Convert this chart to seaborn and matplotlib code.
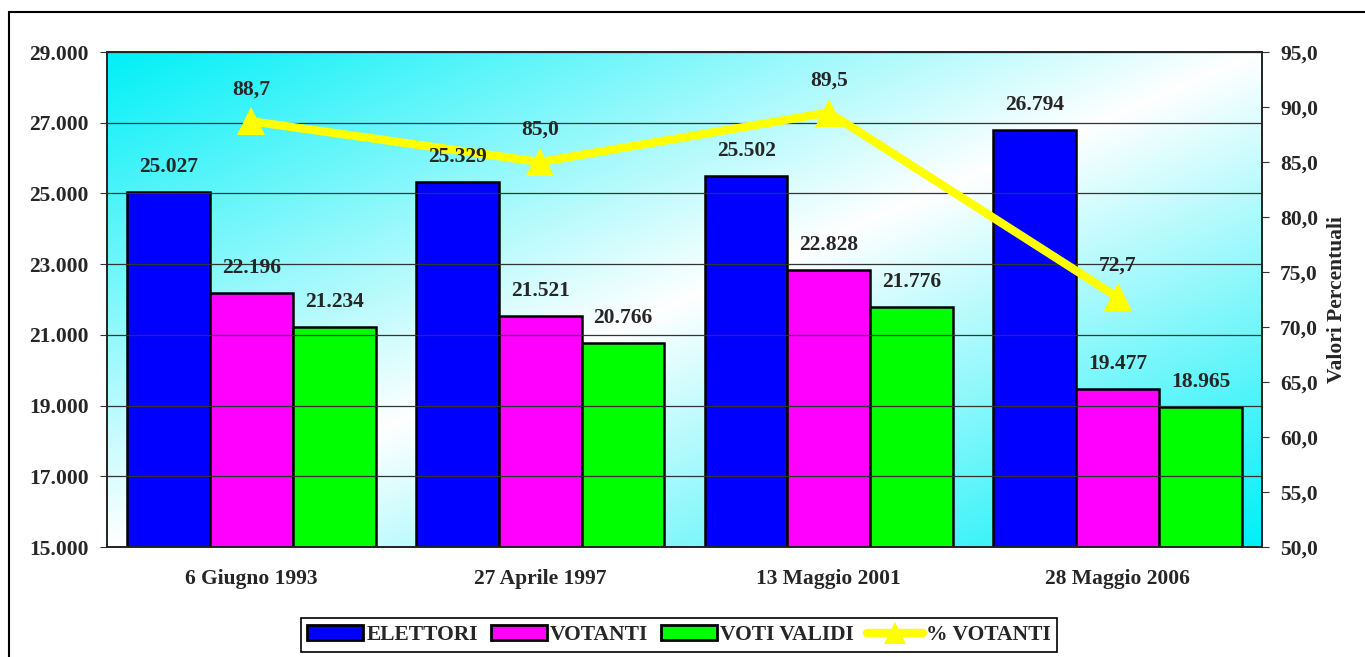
import numpy as np
import pandas as pd
import matplotlib
matplotlib.use("Agg")
import matplotlib.pyplot as plt
from matplotlib.patches import Patch, Rectangle
from matplotlib.lines import Line2D
from matplotlib.ticker import FuncFormatter, MultipleLocator
import seaborn as sn

# dati
categorie = ["6 Giugno 1993", "27 Aprile 1997", "13 Maggio 2001", "28 Maggio 2006"]
elettori = [25027, 25329, 25502, 26794]
votanti = [22196, 21521, 22828, 19477]
voti_validi = [21234, 20766, 21776, 18965]
perc_votanti = [88.7, 85.0, 89.5, 72.7]
serie = ["ELETTORI", "VOTANTI", "VOTI VALIDI"]
colori = ["#0000FF", "#FF00FF", "#00FF00"]
tick_sx = [15000, 17000, 19000, 21000, 23000, 25000, 27000, 29000]

FS = 15.5

sn.set_style("white")
plt.rcParams["font.family"] = ["Liberation Serif", "DejaVu Serif"]
plt.rcParams["font.weight"] = "bold"
plt.rcParams["font.size"] = FS

df = pd.DataFrame({
    "data": categorie * 3,
    "valore": elettori + votanti + voti_validi,
    "serie": [s for s in serie for _ in categorie],
})

fig = plt.figure(figsize=(13.65, 6.57), dpi=100)
ax = fig.add_axes([107 / 1365, 1 - 547 / 657, (1262 - 107) / 1365, (547 - 52) / 657])

# sfondo sfumato (ciano negli angoli alto-sx e basso-dx)
u, v = np.meshgrid(np.linspace(0, 1, 300), np.linspace(0, 1, 300))
t = np.abs(u + v - 1)
ciano = np.array([0.0, 0.94, 0.97])
img = 1 - t[..., None] * (1 - ciano[None, None, :])
ax.imshow(img, extent=[0, 1, 0, 1], transform=ax.transAxes, aspect="auto", zorder=0, origin="upper")

sn.barplot(data=df, x="data", y="valore", hue="serie", hue_order=serie,
           palette=colori, width=0.86, gap=0, edgecolor="black", linewidth=1.8,
           saturation=1, ax=ax, legend=False, zorder=2)

ax.set_ylim(15000, 29000)
ax.set_yticks(tick_sx)
ax.yaxis.set_major_formatter(FuncFormatter(lambda x, p: f"{x:,.0f}".replace(",", ".")))
ax.grid(axis="y", color="#333333", linewidth=0.9)
ax.set_axisbelow(False)
for gl in ax.get_ygridlines():
    gl.set_zorder(1)
ax.set_xlabel("")
ax.set_ylabel("")

# linea % votanti su asse destro
ax2 = ax.twinx()
pos = np.arange(len(categorie))
sn.lineplot(x=pos, y=perc_votanti, ax=ax2, color="#FFFF00", linewidth=6,
            marker="^", markersize=20, markeredgewidth=0, markerfacecolor="#FFFF00")
for xi, yi in zip(pos, perc_votanti):
    ax2.annotate(f"{yi:.1f}".replace(".", ","), (xi, yi), xytext=(0, 23),
                 textcoords="offset points", ha="center", va="center",
                 fontsize=FS, fontweight="bold", zorder=5)

# etichette delle barre sopra la linea
for cont in ax.containers:
    for b in cont:
        h = b.get_height()
        ax2.annotate(f"{h:,.0f}".replace(",", "."), (b.get_x() + b.get_width() / 2, h),
                     xycoords=ax.transData, xytext=(0, 18), textcoords="offset points",
                     ha="center", va="center", fontsize=FS, fontweight="bold", zorder=5)

ax2.set_ylim(50, 95)
ax2.yaxis.set_major_locator(MultipleLocator(5))
ax2.yaxis.set_major_formatter(FuncFormatter(lambda x, p: f"{x:.1f}".replace(".", ",")))
ax2.set_ylabel("Valori Percentuali", fontsize=FS, fontweight="bold", labelpad=6)

ax.set_xlim(-0.5, len(categorie) - 0.5)
ax.set_xticks(pos)
ax.set_xticklabels(categorie)
ax.set_xticks(np.arange(-0.5, len(categorie)), minor=True)
ax.tick_params(axis="x", which="major", length=0, pad=16)
ax.tick_params(axis="x", which="minor", length=6, direction="out", color="#333333", width=1)
ax.tick_params(axis="y", length=5, direction="out", pad=8, color="#333333", left=True)
ax2.tick_params(axis="y", length=5, direction="out", pad=8, color="#333333", right=True)

for a in (ax, ax2):
    for s in a.spines.values():
        s.set_visible(True)
        s.set_color("#222222")
        s.set_linewidth(1.2)

# legenda
handles = [Patch(facecolor=c, edgecolor="black", linewidth=2) for c in colori]
handles.append(Line2D([0], [0], color="#FFFF00", linewidth=6, marker="^",
                      markersize=16, markeredgewidth=0))
leg = fig.legend(handles, serie + ["% VOTANTI"], loc="center",
                 bbox_to_anchor=(679 / 1365, 1 - 635 / 657), ncol=4,
                 frameon=True, fancybox=False, framealpha=1, edgecolor="black",
                 handlelength=2.6, handleheight=0.72, handletextpad=0.15,
                 columnspacing=0.6, borderpad=0.3, fontsize=FS)
leg.get_frame().set_linewidth(1.2)

# cornice esterna
fig.patches.append(Rectangle((9 / 1365, -0.1), 1.2, 1.1 - 12 / 657, fill=False,
                             edgecolor="black", linewidth=1.5,
                             transform=fig.transFigure, figure=fig))

fig.savefig("out.png", dpi=100)
